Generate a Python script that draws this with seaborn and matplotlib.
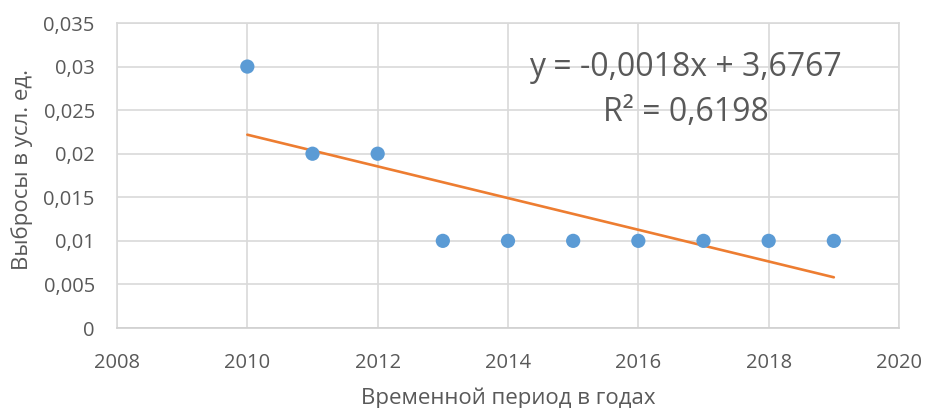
import numpy as np
import pandas as pd
import matplotlib
matplotlib.use("Agg")
import matplotlib.pyplot as plt
import seaborn as sns

years = [2010, 2011, 2012, 2013, 2014, 2015, 2016, 2017, 2018, 2019]
emissions = [0.03, 0.02, 0.02, 0.01, 0.01, 0.01, 0.01, 0.01, 0.01, 0.01]
x_ticks = [2008, 2010, 2012, 2014, 2016, 2018, 2020]
y_ticks = [0, 0.005, 0.01, 0.015, 0.02, 0.025, 0.03, 0.035]
y_tick_labels = ["0", "0,005", "0,01", "0,015", "0,02", "0,025", "0,03", "0,035"]
x_label = "Временной период в годах"
y_label = "Выбросы в усл. ед."
equation = "y = -0,0018x + 3,6767"
r2_text = "R² = 0,6198"

df = pd.DataFrame({"year": years, "value": emissions})

sns.set_theme(style="white")
plt.rcParams["font.family"] = ["Open Sans", "DejaVu Sans"]

text_color = "#595959"
grid_color = "#d9d9d9"

fig = plt.figure(figsize=(9.25, 4.08), dpi=100)
ax = fig.add_axes([117 / 925, 1 - 328 / 408, (899 - 117) / 925, (328 - 23) / 408])

# linear trend line across the data range
coef = np.polyfit(df["year"], df["value"], 1)
trend_x = np.array([min(years), max(years)])
trend_y = np.polyval(coef, trend_x)
sns.lineplot(x=trend_x, y=trend_y, ax=ax, color="#ED7D31", linewidth=1.9, zorder=2)

sns.scatterplot(data=df, x="year", y="value", ax=ax, color="#5B9BD5",
                s=105, edgecolor="none", zorder=3)

ax.set_xlim(2008, 2020)
ax.set_ylim(0, 0.035)
ax.set_xticks(x_ticks)
ax.set_xticklabels([str(t) for t in x_ticks])
ax.set_yticks(y_ticks)
ax.set_yticklabels(y_tick_labels)
ax.grid(True, color=grid_color, linewidth=1.2)
ax.set_axisbelow(True)
for side in ax.spines.values():
    side.set_color(grid_color)
    side.set_linewidth(1.2)
ax.spines["bottom"].set_color("#d0d0d0")

ax.tick_params(axis="both", length=0, labelsize=14.5, labelcolor=text_color)
ax.tick_params(axis="x", pad=18)
ax.tick_params(axis="y", pad=16)

ax.set_xlabel(x_label, fontsize=16, color=text_color)
ax.set_ylabel(y_label, fontsize=16, color=text_color)
ax.xaxis.set_label_coords(0.5, -0.195)
ax.yaxis.set_label_coords(-0.108, 0.52)

ax.text(0.727, 0.853, equation, transform=ax.transAxes, ha="center", va="center",
        fontsize=23, color=text_color)
ax.text(0.727, 0.708, r2_text, transform=ax.transAxes, ha="center", va="center",
        fontsize=23, color=text_color)

fig.savefig("out.png", dpi=100)
